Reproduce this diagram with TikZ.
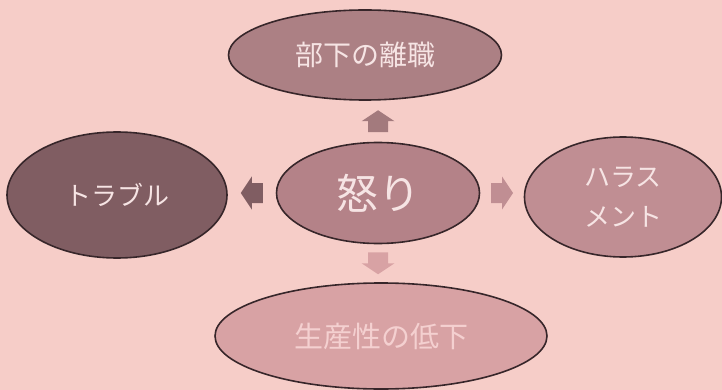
\documentclass[tikz,border=0pt]{standalone}
\usepackage{fontspec}
\newfontfamily\jp{Noto Sans CJK JP}
\usetikzlibrary{shapes.geometric,calc}
\definecolor{bg}{RGB}{246,205,200}
\definecolor{edge}{RGB}{55,38,42}
\definecolor{ctop}{RGB}{172,128,132}
\definecolor{ctrouble}{RGB}{128,93,98}
\definecolor{canger}{RGB}{180,130,136}
\definecolor{charass}{RGB}{192,142,147}
\definecolor{cbottom}{RGB}{216,162,164}
\definecolor{txt}{RGB}{246,228,228}
\definecolor{txtb}{RGB}{244,208,208}
\tikzset{
  bubble/.style={ellipse, draw=edge, line width=1.6pt, inner sep=0pt, text=txt, font=\jp, align=center},
}
\newcommand{\blockarrowat}[3]{%
  \fill[#3, shift={(#1)}, rotate=#2] (-10,11) -- (-10,0) -- (-16.5,0) -- (0,-11) -- (16.5,0) -- (10,0) -- (10,11) -- cycle;}
\begin{document}
\begin{tikzpicture}[x=1pt,y=-1pt]
\fill[bg] (0,0) rectangle (722,390);
\useasboundingbox (0,0) rectangle (722,390);
\node[bubble, fill=ctop, minimum width=273pt, minimum height=90pt, font=\jp\fontsize{28}{30}\selectfont] (top) at (365,55) {部下の離職};
\node[bubble, fill=ctrouble, minimum width=220pt, minimum height=126pt, font=\jp\fontsize{26}{28}\selectfont] (trouble) at (117,195) {トラブル};
\node[bubble, fill=canger, minimum width=203pt, minimum height=101pt, font=\jp\fontsize{42}{44}\selectfont] (anger) at (378,193) {怒り};
\node[bubble, fill=charass, minimum width=197pt, minimum height=120pt, font=\jp\fontsize{26}{40}\selectfont] (harass) at (623,197) {ハラス\\メント};
\node[bubble, fill=cbottom, minimum width=332pt, minimum height=106pt, text=txtb, font=\jp\fontsize{29}{30}\selectfont] (bottom) at (381,336) {生産性の低下};
% block arrows between the central node and its neighbours
\path (anger.north) -- (anger.north |- top.south) coordinate[pos=0.5] (mup);
\path (anger.west) -- (anger.west -| trouble.east) coordinate[pos=0.5] (mleft);
\path (anger.east) -- (anger.east -| harass.west) coordinate[pos=0.5] (mright);
\path (anger.south) -- (anger.south |- bottom.north) coordinate[pos=0.5] (mdown);
\blockarrowat{mup}{0}{ctop!95!black}
\blockarrowat{mleft}{90}{ctrouble}
\blockarrowat{mright}{-90}{charass}
\blockarrowat{mdown}{180}{cbottom}
\end{tikzpicture}
\end{document}
